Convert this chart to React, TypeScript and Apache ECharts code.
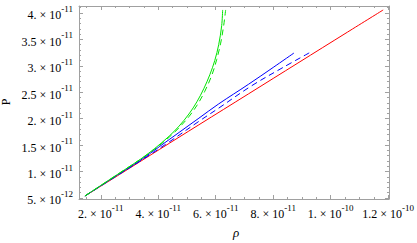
import React, { useEffect, useRef } from 'react';
import * as echarts from 'echarts';

// All values in units of 1e-11
const xTicks = [2, 4, 6, 8, 10, 12];
const xTickMantissa = ['2.', '4.', '6.', '8.', '1.', '1.2'];
const xTickExponent = ['-11', '-11', '-11', '-11', '-10', '-10'];
const yTicks = [0.5, 1, 1.5, 2, 2.5, 3, 3.5, 4];
const yTickMantissa = ['5.', '1.', '1.5', '2.', '2.5', '3.', '3.5', '4.'];
const yTickExponent = ['-12', '-11', '-11', '-11', '-11', '-11', '-11', '-11'];

const redRho = [1.448, 2.655, 4.034, 5.414, 7.138, 8.862, 10.586, 11.828];
const redP = [0.538, 0.946, 1.416, 1.885, 2.469, 3.054, 3.638, 4.057];

const blueRho = [1.448, 2.655, 3.345, 4.034, 4.724, 5.414, 6.103, 7.138, 8.0, 8.724];
const blueP = [0.538, 0.963, 1.2, 1.47, 1.74, 2.01, 2.28, 2.65, 2.97, 3.243];

const blueDashRho = [1.448, 2.655, 3.345, 4.379, 5.414, 6.103, 7.241, 8.345, 9.31];
const blueDashP = [0.538, 0.954, 1.19, 1.56, 1.95, 2.2, 2.62, 2.97, 3.262];

const greenRho = [1.448, 2.655, 3.345, 3.862, 4.379, 4.724, 5.069, 5.345, 5.586, 5.793, 5.966, 6.103, 6.207, 6.241];
const greenP = [0.538, 0.973, 1.22, 1.43, 1.67, 1.86, 2.09, 2.32, 2.57, 2.83, 3.1, 3.4, 3.76, 4.057];

const greenDashRho = [1.448, 2.655, 3.345, 3.862, 4.379, 4.724, 5.069, 5.379, 5.62, 5.862, 6.034, 6.172, 6.276, 6.345];
const greenDashP = [0.538, 0.973, 1.22, 1.42, 1.65, 1.83, 2.04, 2.28, 2.52, 2.82, 3.12, 3.43, 3.76, 4.057];

const X_MIN = 1.241;
const X_MAX = 12.03;
const Y_MIN = 0.481;
const Y_MAX = 4.132;

const FONT = 'Liberation Serif';
const FRAME = '#a0a0a0';

function zip(a: number[], b: number[]) {
  return a.map((v, i) => [v, b[i]]);
}

function minorValues(min: number, max: number, step: number, majors: number[]) {
  const out: number[] = [];
  const n = Math.round(max / step);
  for (let k = 0; k <= n; k++) {
    const v = Math.round(k * step * 1000) / 1000;
    if (v <= min || v >= max) continue;
    if (majors.some((m) => Math.abs(m - v) < 1e-6)) continue;
    out.push(v);
  }
  return out;
}

function fmt(ticks: number[], man: string[], exp: string[]) {
  return (v: number) => {
    const i = ticks.findIndex((t) => Math.abs(t - v) < 1e-6);
    if (i < 0) return '';
    return `{m|${man[i]} × 10}{s|${exp[i]}}`;
  };
}

const rich = {
  m: { fontFamily: FONT, fontSize: 12, lineHeight: 17, verticalAlign: 'bottom', color: '#000' },
  s: { fontFamily: FONT, fontSize: 9, lineHeight: 8, verticalAlign: 'top', color: '#000' },
};

export default function App() {
  const ref = useRef<HTMLDivElement>(null);
  useEffect(() => {
    if (!ref.current) return;
    const chart = echarts.init(ref.current, undefined, { renderer: 'svg' });
    const xMinor = minorValues(X_MIN, X_MAX, 0.5, xTicks);
    const yMinor = minorValues(Y_MIN, Y_MAX, 0.1, yTicks);

    const xAxisBase = { type: 'value', min: X_MIN, max: X_MAX, splitLine: { show: false } };
    const yAxisBase = { type: 'value', min: Y_MIN, max: Y_MAX, splitLine: { show: false } };

    const majorX = (pos: string, labels: boolean) => ({
      ...xAxisBase,
      position: pos,
      axisLine: { show: true, onZero: false, lineStyle: { color: FRAME, width: 1 } },
      axisTick: { show: true, inside: true, length: 4, customValues: xTicks, lineStyle: { color: FRAME } },
      axisLabel: labels
        ? {
            show: true,
            customValues: xTicks,
            formatter: fmt(xTicks, xTickMantissa, xTickExponent),
            margin: 4,
            fontFamily: FONT,
            fontSize: 12,
            rich,
          }
        : { show: false },
    });
    const minorX = (pos: string) => ({
      ...xAxisBase,
      position: pos,
      axisLine: { show: false },
      axisTick: { show: true, inside: true, length: 2, customValues: xMinor, lineStyle: { color: FRAME } },
      axisLabel: { show: false },
    });
    const majorY = (pos: string, labels: boolean) => ({
      ...yAxisBase,
      position: pos,
      axisLine: { show: true, onZero: false, lineStyle: { color: FRAME, width: 1 } },
      axisTick: { show: true, inside: true, length: 4, customValues: yTicks, lineStyle: { color: FRAME } },
      axisLabel: labels
        ? {
            show: true,
            customValues: yTicks,
            formatter: fmt(yTicks, yTickMantissa, yTickExponent),
            margin: 6,
            fontFamily: FONT,
            fontSize: 12,
            rich,
          }
        : { show: false },
    });
    const minorY = (pos: string) => ({
      ...yAxisBase,
      position: pos,
      axisLine: { show: false },
      axisTick: { show: true, inside: true, length: 2, customValues: yMinor, lineStyle: { color: FRAME } },
      axisLabel: { show: false },
    });

    const lineSeries = (name: string, data: number[][], color: string, dashed: boolean) => ({
      name,
      type: 'line',
      data,
      xAxisIndex: 0,
      yAxisIndex: 0,
      showSymbol: false,
      symbol: 'none',
      smooth: 0.35,
      lineStyle: { color, width: 1, type: dashed ? [6, 4] : 'solid' },
      z: 3,
    });

    chart.setOption({
      animation: false,
      backgroundColor: '#ffffff',
      textStyle: { fontFamily: FONT },
      grid: { left: 79, right: 25, top: 6, bottom: 44, containLabel: false },
      xAxis: [majorX('bottom', true), minorX('bottom'), majorX('top', false), minorX('top')],
      yAxis: [majorY('left', true), minorY('left'), majorY('right', false), minorY('right')],
      series: [
        lineSeries('red', zip(redRho, redP), '#ff0000', false),
        lineSeries('blueDash', zip(blueDashRho, blueDashP), '#0000ff', true),
        lineSeries('blue', zip(blueRho, blueP), '#0000ff', false),
        lineSeries('greenDash', zip(greenDashRho, greenDashP), '#00e600', true),
        lineSeries('green', zip(greenRho, greenP), '#00e600', false),
      ],
      graphic: [
        {
          type: 'text',
          x: 6,
          y: 102,
          rotation: Math.PI / 2,
          style: { text: 'P', fontFamily: FONT, fontSize: 12, fill: '#000', align: 'center', verticalAlign: 'middle' },
        },
        {
          type: 'text',
          x: 236,
          y: 232,
          style: { text: 'ρ', fontFamily: FONT, fontSize: 13, fontStyle: 'italic', fill: '#000', align: 'center', verticalAlign: 'middle' },
        },
      ],
    });
    return () => chart.dispose();
  }, []);
  return (
    <div
      ref={ref}
      style={{ position: 'fixed', left: 0, top: 0, width: 417, height: 243, background: '#fff' }}
    />
  );
}
